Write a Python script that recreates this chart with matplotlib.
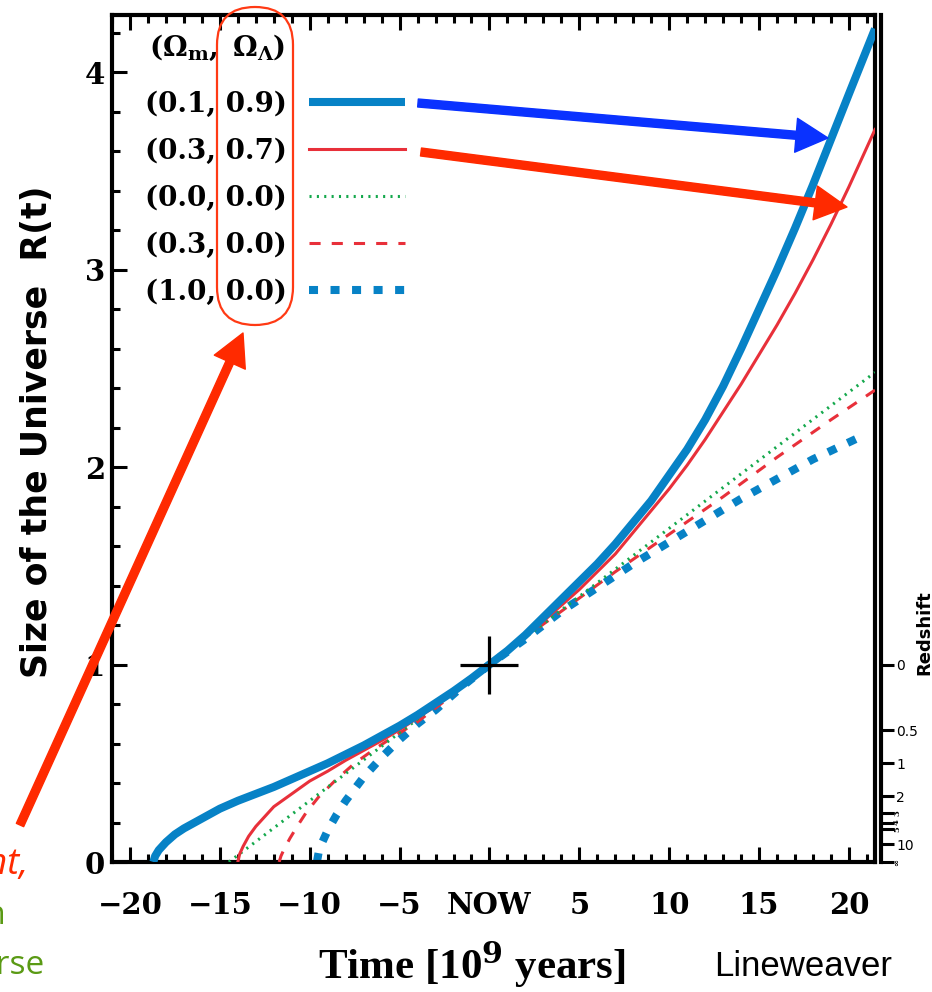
import matplotlib
matplotlib.use("Agg")
import matplotlib.pyplot as plt
from matplotlib.ticker import MultipleLocator
from matplotlib.patches import FancyArrowPatch, FancyBboxPatch, ArrowStyle
from matplotlib.transforms import IdentityTransform, blended_transform_factory

W, H = 932, 992

# Scale factor R(t) of the universe for several (Omega_m, Omega_Lambda) models,
# time in Gyr measured from now (read off the reference figure)
t_01_09 = [-18.7, -18.6, -18.4, -18.0, -17.5, -17.0, -16.0, -15.0, -14.0, -13.0, -12.0,
           -11.0, -10.0, -9.0, -8.0, -7.0, -6.0, -5.0, -4.0, -3.0, -2.0, -1.0, 0.0,
           1.0, 2.0, 3.0, 4.0, 5.0, 6.0, 7.0, 8.0, 9.0, 10.0, 11.0, 12.0, 13.0, 14.0,
           15.0, 16.0, 17.0, 18.0, 19.0, 20.0, 21.45]
R_01_09 = [0.0, 0.03, 0.06, 0.10, 0.14, 0.17, 0.22, 0.27, 0.31, 0.345, 0.38,
           0.42, 0.46, 0.50, 0.545, 0.59, 0.64, 0.69, 0.745, 0.805, 0.865, 0.93, 1.0,
           1.07, 1.15, 1.24, 1.33, 1.42, 1.51, 1.61, 1.72, 1.83, 1.96, 2.09, 2.24, 2.41, 2.60,
           2.80, 3.00, 3.21, 3.43, 3.66, 3.89, 4.22]

t_03_07 = [-14.0, -13.9, -13.7, -13.4, -13.0, -12.5, -12.0, -11.0, -10.0, -9.0, -8.0,
           -7.0, -6.0, -5.0, -4.0, -3.0, -2.0, -1.0, 0.0, 1.0, 2.0, 3.0, 4.0, 5.0, 6.0,
           7.0, 8.0, 9.0, 10.0, 11.0, 12.0, 13.0, 14.0, 15.0, 16.0, 17.0, 18.0, 19.0,
           20.0, 21.45]
R_03_07 = [0.0, 0.04, 0.08, 0.13, 0.18, 0.23, 0.28, 0.345, 0.41, 0.46, 0.515,
           0.565, 0.615, 0.67, 0.73, 0.79, 0.855, 0.925, 1.0, 1.07, 1.14, 1.22, 1.30, 1.38, 1.47,
           1.56, 1.67, 1.78, 1.89, 2.01, 2.14, 2.28, 2.42, 2.57, 2.72, 2.88, 3.05, 3.23,
           3.42, 3.71]

t_00_00 = [-14.5, -10.0, -5.0, 0.0, 5.0, 10.0, 15.0, 21.45]
R_00_00 = [0.0, 0.31, 0.655, 1.0, 1.345, 1.69, 2.035, 2.48]

t_03_00 = [-11.7, -11.6, -11.4, -11.1, -10.7, -10.2, -9.5, -8.5, -7.5, -6.5, -5.5, -4.0,
           -2.0, 0.0, 2.0, 4.0, 7.0, 10.0, 13.0, 16.0, 19.0, 21.45]
R_03_00 = [0.0, 0.03, 0.07, 0.12, 0.18, 0.25, 0.33, 0.42, 0.50, 0.565, 0.625, 0.71,
           0.85, 1.0, 1.14, 1.27, 1.47, 1.66, 1.85, 2.05, 2.24, 2.39]

t_10_00 = [-9.6, -9.5, -9.3, -9.0, -8.5, -8.0, -7.0, -6.0, -5.0, -4.0, -3.0, -1.5, 0.0,
           2.0, 4.0, 6.0, 8.0, 10.0, 12.0, 14.0, 16.0, 18.0, 20.8]
R_10_00 = [0.0, 0.05, 0.10, 0.16, 0.24, 0.31, 0.43, 0.53, 0.62, 0.70, 0.77, 0.89, 1.0,
           1.13, 1.27, 1.39, 1.51, 1.62, 1.73, 1.84, 1.94, 2.04, 2.16]

now_t = [0.0]
now_R = [1.0]

legend_title = r'$\mathbf{(\Omega_m,\ \Omega_\Lambda)}$'
legend_labels = ['(0.1, 0.9)', '(0.3, 0.7)', '(0.0, 0.0)', '(0.3, 0.0)', '(1.0, 0.0)']

x_ticks = [-20, -15, -10, -5, 0, 5, 10, 15, 20]
x_labels = ['\u221220', '\u221215', '\u221210', '\u22125', 'NOW', '5', '10', '15', '20']
y_ticks = [0, 1, 2, 3, 4]

# redshift scale; the crowded labels are drawn small and turned on their side
z_values = [0, 0.5, 1, 2, 3, 4, 5, 10]
z_labels = ['0', '0.5', '1', '2', '3', '4', '5', '10', '\u221e']
z_sideways = ['3', '4', '5', '\u221e']

BLUE = '#0782c6'
RED = '#e8303a'
GREEN = '#14a84c'
ARROW_RED = '#ff2a00'
ARROW_BLUE = '#0a32ff'

plt.rcParams['mathtext.fontset'] = 'dejavuserif'
plt.rcParams['lines.scale_dashes'] = False


def px(x, y):
    """top-left pixel position -> figure fraction"""
    return x / W, 1 - y / H


fig = plt.figure(figsize=(W / 100, H / 100), dpi=100)
ax = fig.add_axes([112 / W, 1 - 862 / H, (875 - 112) / W, (862 - 15) / H])

# curves
l5, = ax.plot(t_10_00, R_10_00, color=BLUE, lw=5.8, dashes=(6.5, 9), zorder=2)
l4, = ax.plot(t_03_00, R_03_00, color=RED, lw=2.2, dashes=(8, 8), zorder=3)
l3, = ax.plot(t_00_00, R_00_00, color=GREEN, lw=2.2, dashes=(1.5, 3.8), zorder=4)
l2, = ax.plot(t_03_07, R_03_07, color=RED, lw=2.2, zorder=5)
l1, = ax.plot(t_01_09, R_01_09, color=BLUE, lw=5.8, solid_capstyle='butt', zorder=6)
ax.plot(now_t, now_R, marker='+', ms=42, mew=2.3, color='black', ls='none', zorder=7)

ax.set_xlim(-21.0, 21.45)
ax.set_ylim(0, 4.29)

tick_font = dict(family='DejaVu Serif', weight='bold', size=21)
ax.set_xticks(x_ticks)
ax.set_xticklabels(x_labels, fontdict=tick_font)
ax.set_yticks(y_ticks)
ax.set_yticklabels([str(v) for v in y_ticks], fontdict=tick_font)
ax.xaxis.set_minor_locator(MultipleLocator(1))
ax.yaxis.set_minor_locator(MultipleLocator(0.2))
ax.tick_params(which='both', direction='in', top=True, right=True, width=2.2)
ax.tick_params(which='major', length=11)
ax.tick_params(which='minor', length=5.5)
ax.tick_params(axis='x', which='major', pad=21)
ax.tick_params(axis='y', which='major', pad=5)
for s in ax.spines.values():
    s.set_linewidth(3)

# redshift axis on the right
ax2 = ax.twinx()
ax2.set_ylim(ax.get_ylim())
z_pos = [1 / (1 + z) for z in z_values] + [0.0]
ax2.set_yticks(z_pos)
ax2.set_yticklabels(['' if s in z_sideways else s for s in z_labels],
                    fontdict=dict(family='DejaVu Serif', weight='bold', size=11))
for lab, txt in zip(ax2.get_yticklabels(), z_labels):
    if txt in ('2', '10'):
        lab.set_fontsize(9)
side_tr = blended_transform_factory(fig.transFigure, ax2.transData)
for pos, txt in zip(z_pos, z_labels):
    if txt in z_sideways:
        ax2.text(897 / W, pos, txt, transform=side_tr, rotation=90, ha='center',
                 va='center', fontsize=6, fontweight='bold', family='DejaVu Serif',
                 clip_on=False)
ax2.yaxis.set_minor_locator(plt.NullLocator())
ax2.tick_params(axis='y', direction='out', length=9, width=2.2, pad=2)
for name, s in ax2.spines.items():
    s.set_visible(name == 'right')
ax2.spines['right'].set_position(('outward', 4.3))
ax2.spines['right'].set_linewidth(3)
fig.text(*px(924, 633), 'Redshift', rotation=90, ha='center', va='center',
         fontsize=13, fontweight='bold', family='DejaVu Sans')

# legend: labels to the left of the line samples, header above
leg = ax.legend([l1, l2, l3, l4, l5], legend_labels, loc='upper left',
                bbox_to_anchor=px(145, 91), bbox_transform=fig.transFigure,
                markerfirst=False, frameon=False, borderpad=0, borderaxespad=0,
                handlelength=3.45, handletextpad=0.8, labelspacing=0.72,
                prop=dict(family='DejaVu Serif', weight='bold', size=20))
leg.set_zorder(10)
fig.text(*px(149, 48), legend_title, ha='left', va='center', fontsize=20)

# axis titles and credits
fig.text(*px(37, 432), 'Size of the Universe  R(t)', rotation=90, ha='center',
         va='center', fontsize=25, fontweight='bold', family='DejaVu Sans')
fig.text(*px(472, 965), r'Time [10$^{\mathbf{9}}$ years]', ha='center', va='center',
         fontsize=31, fontweight='bold', family='Liberation Serif')
fig.text(*px(803, 967), 'Lineweaver', ha='center', va='center', fontsize=25,
         family='Liberation Sans')

# clipped slide text on the far left
fig.text(*px(28, 865), 'cosmological constant,', ha='right', va='center', fontsize=26,
         style='italic', color=ARROW_RED, family='Open Sans')
fig.text(*px(6, 915), 'expansion', ha='right', va='center', fontsize=24,
         color='#5a9a14', family='Open Sans')
fig.text(*px(45, 965), 'universe', ha='right', va='center', fontsize=24,
         color='#5a9a14', family='Open Sans')

# annotation overlays (pixel space)
to_pix = IdentityTransform()
ell = FancyBboxPatch((217, H - 325), 76, 318, boxstyle='round,pad=0,rounding_size=38',
                     transform=to_pix, fill=False, edgecolor='#ff3a14', lw=1.6, zorder=11)
fig.add_artist(ell)

arrow_style = ArrowStyle('Simple', head_length=32, head_width=34, tail_width=8)
for (x0, y0), (x1, y1), c in [((20, 825), (243, 333), ARROW_RED),
                              ((418, 103), (828, 138), ARROW_BLUE),
                              ((421, 152), (847, 207), ARROW_RED)]:
    arr = FancyArrowPatch((x0, H - y0), (x1, H - y1), arrowstyle=arrow_style,
                          mutation_scale=0.72, shrinkA=0, shrinkB=0, color=c,
                          transform=to_pix, zorder=12)
    fig.add_artist(arr)

fig.savefig('out.png', dpi=100)
